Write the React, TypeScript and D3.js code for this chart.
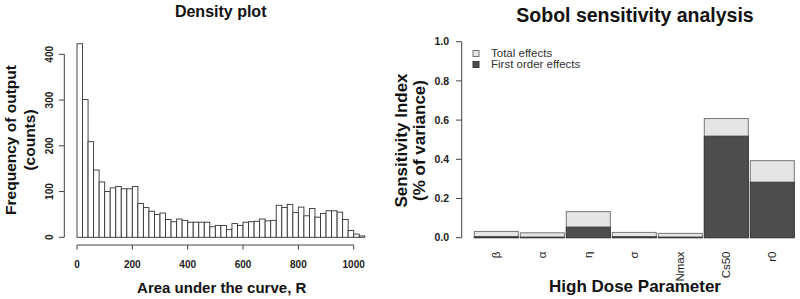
import React from "react";
import * as d3 from "d3";

// ---- Histogram data (bins of width 20) ----
const binStarts = [
  0, 20, 40, 60, 80, 100, 120, 140, 160, 180, 200, 220, 240, 260, 280, 300, 320, 340, 360, 380,
  400, 420, 440, 460, 480, 500, 520, 540, 560, 580, 600, 620, 640, 660, 680, 700, 720, 740, 760, 780,
  800, 820, 840, 860, 880, 900, 920, 940, 960, 980, 1000, 1020,
];
const binCounts = [
  423, 301, 209, 147, 121, 100, 108, 111, 106, 106, 111, 74, 65, 57, 50, 53, 39, 34, 40, 37,
  33, 33, 33, 33, 23, 26, 26, 17, 30, 26, 33, 34, 35, 40, 36, 37, 70, 65, 72, 54,
  66, 47, 63, 44, 52, 58, 58, 55, 39, 15, 7, 3,
];
const binWidth = 20;
const histXTicks = [0, 200, 400, 600, 800, 1000];
const histYTicks = [0, 100, 200, 300, 400];

// ---- Sobol data ----
const params = ["β", "α", "η", "σ", "Nmax", "Cs50", "r0"];
const totalEffects = [0.032, 0.025, 0.133, 0.027, 0.022, 0.608, 0.393];
const firstOrder = [0.005, 0.003, 0.054, 0.005, 0.003, 0.518, 0.283];
const sobolYTicks = [0, 0.2, 0.4, 0.6, 0.8, 1.0];
const legendLabels = ["Total effects", "First order effects"];

const FONT = "'Liberation Sans', Arial, Helvetica, sans-serif";
const AXIS = "#444";
const LIGHT = "#e5e5e5";
const DARK = "#4d4d4d";

export default function App() {
  // Left histogram scales
  const hx = d3.scaleLinear().domain([0, 1000]).range([77, 353.7]);
  const hy = d3.scaleLinear().domain([0, 400]).range([237.3, 54.3]);
  const axisY = 245;
  const yAxisX = 64.3;

  // Right barplot scales
  const bx = d3
    .scaleBand<string>()
    .domain(params)
    .range([474.3, 794.3])
    .paddingInner(2 / 46)
    .paddingOuter(0);
  const by = d3.scaleLinear().domain([0, 1]).range([237.7, 41.7]);
  const rAxisX = 461.7;

  return (
    <svg
      width={800}
      height={299}
      style={{ position: "absolute", left: 0, top: 0, background: "#fff" }}
      fontFamily={FONT}
    >
      {/* ================= LEFT: Density plot ================= */}
      <text x={220.7} y={16.7} textAnchor="middle" fontWeight="bold" fontSize={16} fill="#111">
        Density plot
      </text>

      {/* bars */}
      <g>
        {binStarts.map((s, i) => (
          <rect
            key={i}
            x={hx(s)}
            y={hy(binCounts[i])}
            width={hx(s + binWidth) - hx(s)}
            height={hy(0) - hy(binCounts[i])}
            fill="#fff"
            stroke="#333"
            strokeWidth={0.9}
          />
        ))}
      </g>

      {/* x axis */}
      <g stroke={AXIS} strokeWidth={1} fill="none">
        <line x1={hx(0)} x2={hx(1000)} y1={axisY} y2={axisY} />
        {histXTicks.map((t) => (
          <line key={t} x1={hx(t)} x2={hx(t)} y1={axisY} y2={axisY + 4.5} />
        ))}
      </g>
      {histXTicks.map((t) => (
        <text
          key={t}
          x={hx(t)}
          y={267.8}
          textAnchor="middle"
          fontSize={10}
          fontWeight="bold"
          fill="#222"
        >
          {t}
        </text>
      ))}
      <text x={221.7} y={292.5} textAnchor="middle" fontWeight="bold" fontSize={15} fill="#111">
        Area under the curve, R
      </text>

      {/* y axis */}
      <g stroke={AXIS} strokeWidth={1} fill="none">
        <line x1={yAxisX} x2={yAxisX} y1={hy(0)} y2={hy(400)} />
        {histYTicks.map((t) => (
          <line key={t} x1={yAxisX - 5.5} x2={yAxisX} y1={hy(t)} y2={hy(t)} />
        ))}
      </g>
      {histYTicks.map((t) => (
        <text
          key={t}
          transform={`translate(52.6,${hy(t)}) rotate(-90)`}
          textAnchor="middle"
          fontSize={10}
          fontWeight="bold"
          fill="#222"
        >
          {t}
        </text>
      ))}
      <g transform="translate(0,140) rotate(-90)">
        <text x={0} y={16.3} textAnchor="middle" fontWeight="bold" fontSize={15.5} fill="#111">
          Frequency of output
        </text>
        <text x={0} y={35.3} textAnchor="middle" fontWeight="bold" fontSize={15.5} fill="#111">
          (counts)
        </text>
      </g>

      {/* ================= RIGHT: Sobol ================= */}
      <text x={635} y={21.5} textAnchor="middle" fontWeight="bold" fontSize={19.5} fill="#111">
        Sobol sensitivity analysis
      </text>

      {/* total effects bars */}
      <g>
        {params.map((p, i) => (
          <rect
            key={"t" + p}
            x={bx(p)}
            y={by(totalEffects[i])}
            width={bx.bandwidth()}
            height={by(0) - by(totalEffects[i])}
            fill={LIGHT}
            stroke="#777"
            strokeWidth={1}
          />
        ))}
        {params.map((p, i) => (
          <rect
            key={"f" + p}
            x={bx(p)}
            y={by(firstOrder[i])}
            width={bx.bandwidth()}
            height={by(0) - by(firstOrder[i])}
            fill={DARK}
            stroke="#3a3a3a"
            strokeWidth={1}
          />
        ))}
      </g>

      {/* y axis */}
      <g stroke={AXIS} strokeWidth={1} fill="none">
        <line x1={rAxisX} x2={rAxisX} y1={by(0)} y2={by(1)} />
        {sobolYTicks.map((t) => (
          <line key={t} x1={rAxisX - 5.7} x2={rAxisX} y1={by(t)} y2={by(t)} />
        ))}
      </g>
      {sobolYTicks.map((t) => (
        <text
          key={t}
          x={449}
          y={by(t)}
          dy="0.36em"
          textAnchor="end"
          fontSize={10.5}
          fontWeight="bold"
          fill="#222"
        >
          {t.toFixed(1)}
        </text>
      ))}

      {/* category labels */}
      {params.map((p) => (
        <text
          key={"l" + p}
          transform={`translate(${(bx(p) as number) + bx.bandwidth() / 2},251.5) rotate(-90)`}
          dy="0.36em"
          textAnchor="end"
          fontSize={11.5}
          fill="#222"
        >
          {p}
        </text>
      ))}

      <g transform="translate(0,140.5) rotate(-90)">
        <text x={0} y={406.5} textAnchor="middle" fontWeight="bold" fontSize={17} fill="#111">
          Sensitivity Index
        </text>
        <text x={0} y={425} textAnchor="middle" fontWeight="bold" fontSize={17} fill="#111">
          (% of variance)
        </text>
      </g>
      <text x={635} y={291.5} textAnchor="middle" fontWeight="bold" fontSize={17} fill="#111">
        High Dose Parameter
      </text>

      {/* legend */}
      <g>
        {legendLabels.map((l, i) => (
          <g key={l}>
            <rect
              x={473}
              y={50.5 + i * 11}
              width={6}
              height={6}
              fill={i === 0 ? LIGHT : DARK}
              stroke={i === 0 ? "#777" : "#3a3a3a"}
              strokeWidth={1}
            />
            <text x={491} y={57.3 + i * 11} fontSize={11.5} fill="#333">
              {l}
            </text>
          </g>
        ))}
      </g>
    </svg>
  );
}
